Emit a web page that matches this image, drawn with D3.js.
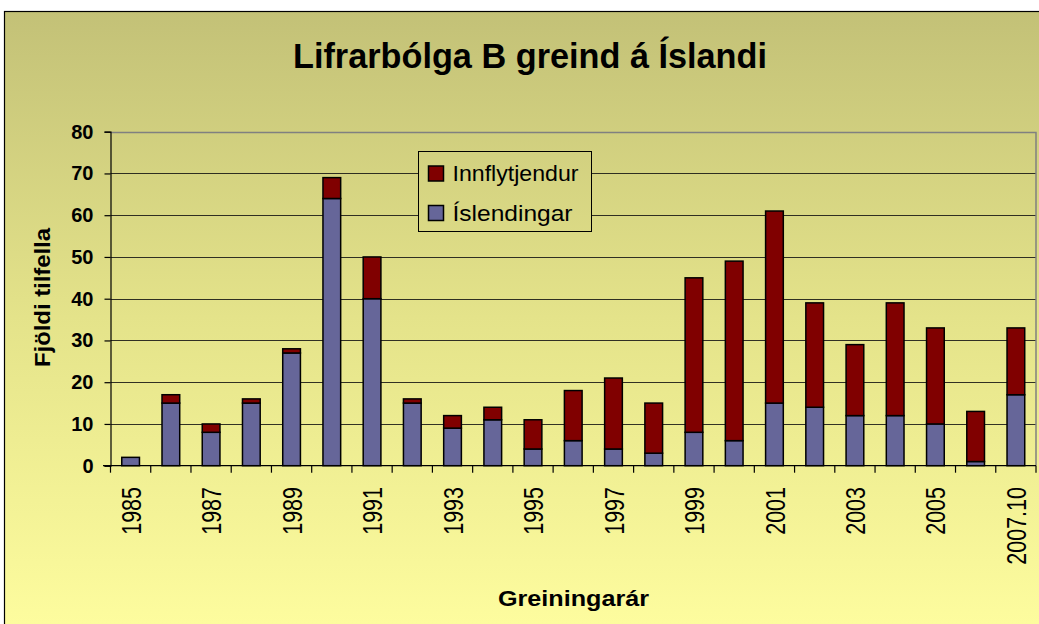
<!DOCTYPE html>
<html>
<head>
<meta charset="utf-8">
<script src="https://cdn.jsdelivr.net/npm/d3@7"></script>
<style>
  html, body { margin: 0; padding: 0; background: #fff; }
  svg { display: block; }
  text { font-family: "Liberation Sans", Arial, sans-serif; fill: #000; }
</style>
</head>
<body>
<svg id="chart" width="1039" height="624"></svg>
<script>
// ---- data ----
const categories = ["1985","1986","1987","1988","1989","1990","1991","1992","1993","1994","1995","1996","1997","1998","1999","2000","2001","2002","2003","2004","2005","2006","2007.10"];
const islendingar   = [2,15,8,15,27,64,40,15,9,11,4,6,4,3,8,6,15,14,12,12,10,1,17];
const innflytjendur = [0,2,2,1,1,5,10,1,3,3,7,12,17,12,37,43,46,25,17,27,23,12,16];
const tickLabelsShown = ["1985","1987","1989","1991","1993","1995","1997","1999","2001","2003","2005","2007.10"];
const yTicks = [0,10,20,30,40,50,60,70,80];
const seriesNames = ["Íslendingar","Innflytjendur"];
const titleText = "Lifrarbólga B greind á Íslandi";
const xTitle = "Greiningarár";
const yTitle = "Fjöldi tilfella";

const colors = { "Íslendingar": "#666699", "Innflytjendur": "#800000" };

const svg = d3.select("#chart");
const W = 1039, H = 624;
const plot = { left: 110.5, right: 1036, top: 131.7, bottom: 465.7 };

// gradient background
const defs = svg.append("defs");
const grad = defs.append("linearGradient").attr("id","bg")
  .attr("gradientUnits","userSpaceOnUse").attr("x1",0).attr("y1",11).attr("x2",0).attr("y2",624);
grad.append("stop").attr("offset","0%").attr("stop-color","#c3c177");
grad.append("stop").attr("offset","50%").attr("stop-color","#e4e38a");
grad.append("stop").attr("offset","100%").attr("stop-color","#fdfc9e");

svg.append("rect").attr("x",4.5).attr("y",11.5).attr("width",W).attr("height",H)
  .attr("fill","url(#bg)").attr("stroke","#000").attr("stroke-width",1.2);

// scales
const x = d3.scaleBand().domain(categories).range([plot.left, plot.right]).paddingInner(0.56).paddingOuter(0.28);
const y = d3.scaleLinear().domain([0,80]).range([plot.bottom, plot.top]);

// gridlines
svg.append("g").selectAll("line").data(yTicks.filter(d => d > 0 && d < 80)).join("line")
  .attr("x1", plot.left).attr("x2", plot.right)
  .attr("y1", d => Math.round(y(d)) + 0.5).attr("y2", d => Math.round(y(d)) + 0.5)
  .attr("stroke", "#111").attr("stroke-opacity", 0.85).attr("stroke-width", 1);

// plot border top/right (grey)
svg.append("path")
  .attr("d", `M${plot.left},${Math.round(plot.top)+0.5}H${plot.right}V${plot.bottom}`)
  .attr("fill","none").attr("stroke","#808080").attr("stroke-width",1.5);

// stacked bars
const stackData = categories.map((c,i) => ({ cat: c, "Íslendingar": islendingar[i], "Innflytjendur": innflytjendur[i] }));
const stack = d3.stack().keys(seriesNames)(stackData);
svg.append("g").selectAll("g").data(stack).join("g")
  .attr("fill", s => colors[s.key])
  .selectAll("rect").data(s => s.filter(d => d[1] - d[0] > 0)).join("rect")
  .attr("x", d => x(d.data.cat))
  .attr("width", x.bandwidth())
  .attr("y", d => y(d[1]))
  .attr("height", d => y(d[0]) - y(d[1]))
  .attr("stroke", "#000").attr("stroke-width", 1.5);

// y axis
const yAxis = svg.append("g").attr("transform", `translate(${plot.left},0)`)
  .call(d3.axisLeft(y).tickValues(yTicks).tickSize(6).tickPadding(10).tickFormat(d3.format("d")));
yAxis.select(".domain").attr("stroke","#000").attr("stroke-width",1.2);
yAxis.selectAll(".tick line").attr("stroke","#000").attr("stroke-width",1.2);
yAxis.selectAll(".tick text").attr("font-size", 20).attr("font-weight","bold")
  .attr("font-family","Liberation Sans, Arial, sans-serif").attr("fill","#000").attr("dx", -1);

// x axis line
svg.append("line").attr("x1", 103).attr("x2", plot.right).attr("y1", plot.bottom).attr("y2", plot.bottom)
  .attr("stroke","#000").attr("stroke-width",1.3);
// x ticks at band boundaries
const step = x.step();
const boundaries = categories.map((c) => x(c) - (step - x.bandwidth())/2).concat([plot.right]);
svg.append("g").selectAll("line").data(boundaries).join("line")
  .attr("x1", d => d).attr("x2", d => d)
  .attr("y1", plot.bottom).attr("y2", plot.bottom + 7)
  .attr("stroke","#000").attr("stroke-width",1.2);

// x tick labels (rotated)
svg.append("g").selectAll("text").data(tickLabelsShown).join("text")
  .attr("transform", d => `translate(${x(d) + x.bandwidth()/2},487) rotate(-90) scale(1,1.3)`)
  .attr("text-anchor","end").attr("dominant-baseline","central")
  .attr("font-size", 21.5)
  .text(d => d);

// title
svg.append("text").attr("x", 530).attr("y", 68).attr("text-anchor","middle")
  .attr("font-size", 35).attr("font-weight","bold")
  .attr("textLength", 474).attr("lengthAdjust","spacingAndGlyphs")
  .text(titleText);

// x axis title
svg.append("text").attr("x", 573.5).attr("y", 606).attr("text-anchor","middle")
  .attr("font-size", 22).attr("font-weight","bold")
  .attr("textLength", 151).attr("lengthAdjust","spacingAndGlyphs")
  .text(xTitle);

// y axis title
svg.append("text").attr("transform","translate(50,297.5) rotate(-90)").attr("text-anchor","middle")
  .attr("font-size", 22).attr("font-weight","bold")
  .attr("textLength", 139).attr("lengthAdjust","spacingAndGlyphs")
  .text(yTitle);

// legend
const lg = svg.append("g");
lg.append("rect").attr("x", 418.5).attr("y", 151.5).attr("width", 173).attr("height", 80)
  .attr("fill","url(#bg)").attr("stroke","#000").attr("stroke-width",1);
const legendItems = ["Innflytjendur","Íslendingar"];
const legendTextLen = { "Innflytjendur": 126, "Íslendingar": 120 };
legendItems.forEach((name, i) => {
  const yy = 166 + i * 39.5;
  lg.append("rect").attr("x", 428.5).attr("y", yy).attr("width", 15).attr("height", 15)
    .attr("fill", colors[name]).attr("stroke","#000").attr("stroke-width",1.5);
  lg.append("text").attr("x", 452.5).attr("y", yy + 15).attr("font-size", 22)
    .attr("textLength", legendTextLen[name]).attr("lengthAdjust","spacingAndGlyphs")
    .text(name);
});
</script>
</body>
</html>
